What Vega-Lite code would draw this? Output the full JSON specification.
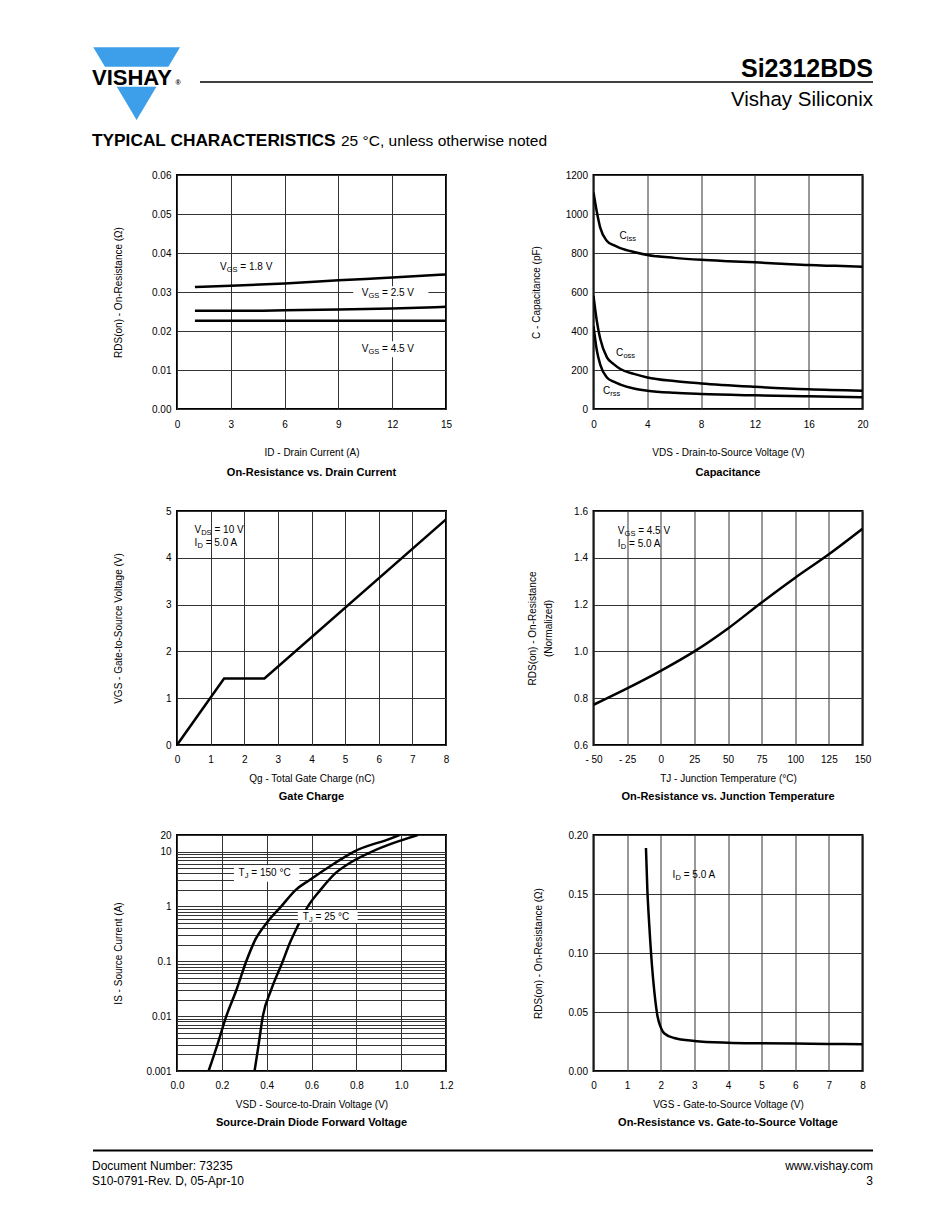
{
  "$schema": "https://vega.github.io/schema/vega-lite/v6.json",
  "background": "white",
  "padding": {"left": 92, "top": 40, "right": 0, "bottom": 0},
  "spacing": 10,
  "config": {
    "font": "Liberation Sans",
    "view": {"stroke": null},
    "axis": {"labelFont": "Liberation Sans", "labelFontSize": 10, "labelColor": "#000", "titleFont": "Liberation Sans", "titleFontSize": 10, "titleFontWeight": "normal", "titleColor": "#000", "ticks": false, "tickSize": 0, "domain": false, "grid": true, "gridColor": "#333", "gridWidth": 1, "gridOpacity": 1, "labelFlush": false, "labelOverlap": false, "titleBaseline": "alphabetic"},
    "axisX": {"labelBaseline": "middle", "labelPadding": 14, "labelAlign": "center", "labelAngle": 0},
    "axisY": {"labelPadding": 6, "titleAngle": 270, "titleAlign": "center"},
    "title": {"font": "Liberation Sans", "fontSize": 11, "fontWeight": "bold", "color": "#000"},
    "text": {"font": "Liberation Sans", "color": "#000", "fontSize": 10, "align": "left", "baseline": "middle"}
  },
  "datasets": {
    "lab1": [{"x": 2.4, "y": 0.0364, "m": "V", "s": "GS", "r": "= 1.8 V", "g": "V"}, {"x": 10.3, "y": 0.0298, "m": "V", "s": "GS", "r": "= 2.5 V", "g": "V"}, {"x": 10.3, "y": 0.0154, "m": "V", "s": "GS", "r": "= 4.5 V", "g": "V"}],
    "lab2": [{"x": 1.93, "y": 888, "m": "C", "s": "iss"}, {"x": 1.68, "y": 285, "m": "C", "s": "oss"}, {"x": 0.7, "y": 94, "m": "C", "s": "rss"}],
    "lab3": [{"x": 0.52, "y": 4.59, "m": "V", "s": "DS", "r": "= 10 V", "g": "V"}, {"x": 0.52, "y": 4.32, "m": "I", "s": "D", "r": "= 5.0 A", "g": "I"}],
    "lab4": [{"x": -31.9, "y": 1.515, "m": "V", "s": "GS", "r": "= 4.5 V", "g": "V"}, {"x": -31.9, "y": 1.46, "m": "I", "s": "D", "r": "= 5.0 A", "g": "I"}],
    "lab5": [{"x": 0.2745, "y": 4.0, "m": "T", "s": "J", "r": "= 150 °C", "g": "T"}, {"x": 0.561, "y": 0.65, "m": "T", "s": "J", "r": "= 25 °C", "g": "T"}],
    "lab6": [{"x": 2.35, "y": 0.166, "m": "I", "s": "D", "r": "= 5.0 A", "g": "I"}]
  },
  "vconcat": [
    {
      "width": 696, "height": 119,
      "encoding": {
        "x": {"field": "x", "type": "quantitative", "scale": {"domain": [177, 873], "nice": false, "zero": false}, "axis": null},
        "y": {"field": "y", "type": "quantitative", "scale": {"domain": [40, 159], "nice": false, "zero": false, "reverse": true}, "axis": null}
      },
      "layer": [
        {"data": {"values": [{"x": 93.3, "y": 47.3, "y2": 47.3}, {"x": 136.6, "y": 47.3, "y2": 120}, {"x": 180, "y": 47.3, "y2": 47.3}]},
         "mark": {"type": "area", "color": "#3d9ee9", "opacity": 1},
         "encoding": {"y2": {"field": "y2"}}},
        {"data": {"values": [{"x": 95, "x2": 178, "y": 66.7, "y2": 86.7}]},
         "mark": {"type": "rect", "color": "#ffffff"},
         "encoding": {"x2": {"field": "x2"}, "y2": {"field": "y2"}}},
        {"data": {"values": [{"x": 92, "y": 85, "label": "VISHAY"}]},
         "mark": {"type": "text", "align": "left", "baseline": "alphabetic", "fontSize": 22, "fontWeight": "bold"},
         "encoding": {"text": {"field": "label"}}},
        {"data": {"values": [{"x": 175.5, "y": 84.5, "label": "®"}]},
         "mark": {"type": "text", "align": "left", "baseline": "alphabetic", "fontSize": 7, "fontWeight": "bold"},
         "encoding": {"text": {"field": "label"}}},
        {"data": {"values": [{"x": 200, "x2": 873, "y": 82}]},
         "mark": {"type": "rule", "color": "#000", "strokeWidth": 1.5},
         "encoding": {"x2": {"field": "x2"}}},
        {"data": {"values": [{"x": 873, "y": 77, "label": "Si2312BDS"}]},
         "mark": {"type": "text", "align": "right", "baseline": "alphabetic", "fontSize": 25, "fontWeight": "bold"},
         "encoding": {"text": {"field": "label"}}},
        {"data": {"values": [{"x": 873, "y": 105.5, "label": "Vishay Siliconix"}]},
         "mark": {"type": "text", "align": "right", "baseline": "alphabetic", "fontSize": 20.5},
         "encoding": {"text": {"field": "label"}}},
        {"data": {"values": [{"x": 92, "y": 146, "label": "TYPICAL CHARACTERISTICS"}]},
         "mark": {"type": "text", "align": "left", "baseline": "alphabetic", "fontSize": 17.3, "fontWeight": "bold"},
         "encoding": {"text": {"field": "label"}}},
        {"data": {"values": [{"x": 341, "y": 146, "label": "25 °C, unless otherwise noted"}]},
         "mark": {"type": "text", "align": "left", "baseline": "alphabetic", "fontSize": 15.5},
         "encoding": {"text": {"field": "label"}}}
      ]
    },
    {
      "columns": 2,
      "align": "each",
      "spacing": {"row": 26, "column": 72.5},
      "concat": [
        {
          "width": 269, "height": 234,
          "view": {"stroke": "#000", "strokeWidth": 2},
          "title": {"text": "On-Resistance vs. Drain Current", "orient": "bottom", "offset": 19, "baseline": "alphabetic"},
          "encoding": {
            "x": {"field": "x", "type": "quantitative", "scale": {"domain": [0, 15], "nice": false, "zero": false},
                  "axis": {"values": [0, 3, 6, 9, 12, 15], "title": "ID - Drain Current (A)", "titleX": 134.5, "titleY": 46, "labelPadding": 15}},
            "y": {"field": "y", "type": "quantitative", "scale": {"domain": [0, 0.06], "nice": false, "zero": false},
                  "axis": {"values": [0, 0.01, 0.02, 0.03, 0.04, 0.05, 0.06], "format": ".2f", "title": "RDS(on) - On-Resistance (Ω)", "titleX": -56, "titleY": 117}}
          },
          "layer": [
            {"data": {"values": [
              {"x": 1, "y": 0.0313, "c": "1.8"}, {"x": 3, "y": 0.0316, "c": "1.8"}, {"x": 6, "y": 0.0322, "c": "1.8"}, {"x": 9, "y": 0.033, "c": "1.8"}, {"x": 12, "y": 0.0337, "c": "1.8"}, {"x": 15, "y": 0.0345, "c": "1.8"},
              {"x": 1, "y": 0.0252, "c": "2.5"}, {"x": 4, "y": 0.0252, "c": "2.5"}, {"x": 6, "y": 0.0253, "c": "2.5"}, {"x": 9, "y": 0.0255, "c": "2.5"}, {"x": 12, "y": 0.0258, "c": "2.5"}, {"x": 15, "y": 0.0262, "c": "2.5"},
              {"x": 1, "y": 0.0226, "c": "4.5"}, {"x": 5, "y": 0.0226, "c": "4.5"}, {"x": 10, "y": 0.0226, "c": "4.5"}, {"x": 15, "y": 0.0226, "c": "4.5"}
             ]},
             "mark": {"type": "line", "color": "#000", "strokeWidth": 2.5, "interpolate": "monotone", "clip": true},
             "encoding": {"detail": {"field": "c", "type": "nominal"}}},
            {"data": {"values": [{"x": 9.83, "x2": 14.02, "y": 0.0282, "y2": 0.0315}, {"x": 10.1, "x2": 13.55, "y": 0.0133, "y2": 0.0174}]},
             "mark": {"type": "rect", "color": "#ffffff"},
             "encoding": {"x2": {"field": "x2"}, "y2": {"field": "y2"}}},
            {"data": {"name": "lab1"}, "mark": {"type": "text"}, "encoding": {"text": {"field": "m"}}},
            {"data": {"name": "lab1"}, "mark": {"type": "text", "fontSize": 7.5, "dx": 6.7, "dy": 3}, "encoding": {"text": {"field": "s"}}},
            {"data": {"name": "lab1"}, "mark": {"type": "text", "dx": 20.3}, "encoding": {"text": {"field": "r"}}}
          ]
        },
        {
          "width": 269, "height": 234,
          "view": {"stroke": "#000", "strokeWidth": 2},
          "title": {"text": "Capacitance", "orient": "bottom", "offset": 19, "baseline": "alphabetic"},
          "encoding": {
            "x": {"field": "x", "type": "quantitative", "scale": {"domain": [0, 20], "nice": false, "zero": false},
                  "axis": {"values": [0, 4, 8, 12, 16, 20], "title": "VDS - Drain-to-Source Voltage (V)", "titleX": 134.5, "titleY": 46, "labelPadding": 15}},
            "y": {"field": "y", "type": "quantitative", "scale": {"domain": [0, 1200], "nice": false, "zero": false},
                  "axis": {"values": [0, 200, 400, 600, 800, 1000, 1200], "format": "d", "title": "C - Capacitance (pF)", "titleX": -54, "titleY": 117}}
          },
          "layer": [
            {"data": {"values": [
              {"x": 0, "y": 1110, "c": "Ciss"}, {"x": 0.25, "y": 1010, "c": "Ciss"}, {"x": 0.5, "y": 930, "c": "Ciss"}, {"x": 1, "y": 862, "c": "Ciss"}, {"x": 1.5, "y": 840, "c": "Ciss"}, {"x": 2, "y": 825, "c": "Ciss"}, {"x": 3, "y": 805, "c": "Ciss"}, {"x": 4, "y": 790, "c": "Ciss"}, {"x": 6, "y": 775, "c": "Ciss"}, {"x": 8, "y": 765, "c": "Ciss"}, {"x": 10, "y": 758, "c": "Ciss"}, {"x": 12, "y": 752, "c": "Ciss"}, {"x": 14, "y": 745, "c": "Ciss"}, {"x": 16, "y": 738, "c": "Ciss"}, {"x": 18, "y": 734, "c": "Ciss"}, {"x": 20, "y": 730, "c": "Ciss"},
              {"x": 0, "y": 580, "c": "Coss"}, {"x": 0.25, "y": 450, "c": "Coss"}, {"x": 0.5, "y": 360, "c": "Coss"}, {"x": 1, "y": 265, "c": "Coss"}, {"x": 1.5, "y": 230, "c": "Coss"}, {"x": 2, "y": 205, "c": "Coss"}, {"x": 3, "y": 180, "c": "Coss"}, {"x": 4, "y": 162, "c": "Coss"}, {"x": 6, "y": 143, "c": "Coss"}, {"x": 8, "y": 131, "c": "Coss"}, {"x": 12, "y": 114, "c": "Coss"}, {"x": 16, "y": 101, "c": "Coss"}, {"x": 20, "y": 94, "c": "Coss"},
              {"x": 0, "y": 425, "c": "Crss"}, {"x": 0.25, "y": 300, "c": "Crss"}, {"x": 0.5, "y": 228, "c": "Crss"}, {"x": 1, "y": 162, "c": "Crss"}, {"x": 1.5, "y": 140, "c": "Crss"}, {"x": 2, "y": 125, "c": "Crss"}, {"x": 3, "y": 105, "c": "Crss"}, {"x": 4, "y": 94, "c": "Crss"}, {"x": 6, "y": 83, "c": "Crss"}, {"x": 8, "y": 77, "c": "Crss"}, {"x": 12, "y": 70, "c": "Crss"}, {"x": 16, "y": 65, "c": "Crss"}, {"x": 20, "y": 60, "c": "Crss"}
             ]},
             "mark": {"type": "line", "color": "#000", "strokeWidth": 2.5, "interpolate": "monotone", "clip": true},
             "encoding": {"detail": {"field": "c", "type": "nominal"}}},
            {"data": {"name": "lab2"}, "mark": {"type": "text"}, "encoding": {"text": {"field": "m"}}},
            {"data": {"name": "lab2"}, "mark": {"type": "text", "fontSize": 7.5, "dx": 7.3, "dy": 3}, "encoding": {"text": {"field": "s"}}}
          ]
        },
        {
          "width": 269, "height": 234,
          "view": {"stroke": "#000", "strokeWidth": 2},
          "title": {"text": "Gate Charge", "orient": "bottom", "offset": 16.5, "baseline": "alphabetic"},
          "encoding": {
            "x": {"field": "x", "type": "quantitative", "scale": {"domain": [0, 8], "nice": false, "zero": false},
                  "axis": {"values": [0, 1, 2, 3, 4, 5, 6, 7, 8], "title": "Qg - Total Gate Charge (nC)", "titleX": 134.5, "titleY": 36.5}},
            "y": {"field": "y", "type": "quantitative", "scale": {"domain": [0, 5], "nice": false, "zero": false},
                  "axis": {"values": [0, 1, 2, 3, 4, 5], "title": "VGS - Gate-to-Source Voltage (V)", "titleX": -56, "titleY": 117}}
          },
          "layer": [
            {"data": {"values": [{"x": 0, "y": 0}, {"x": 1.4, "y": 1.42}, {"x": 2.6, "y": 1.42}, {"x": 8, "y": 4.82}]},
             "mark": {"type": "line", "color": "#000", "strokeWidth": 2.5, "clip": true}},
            {"data": {"name": "lab3"}, "mark": {"type": "text"}, "encoding": {"text": {"field": "m"}}},
            {"data": {"name": "lab3"}, "transform": [{"filter": "datum.g == 'V'"}], "mark": {"type": "text", "fontSize": 7.5, "dx": 6.7, "dy": 3}, "encoding": {"text": {"field": "s"}}},
            {"data": {"name": "lab3"}, "transform": [{"filter": "datum.g == 'V'"}], "mark": {"type": "text", "dx": 20}, "encoding": {"text": {"field": "r"}}},
            {"data": {"name": "lab3"}, "transform": [{"filter": "datum.g == 'I'"}], "mark": {"type": "text", "fontSize": 7.5, "dx": 2.9, "dy": 3}, "encoding": {"text": {"field": "s"}}},
            {"data": {"name": "lab3"}, "transform": [{"filter": "datum.g == 'I'"}], "mark": {"type": "text", "dx": 11.2}, "encoding": {"text": {"field": "r"}}}
          ]
        },
        {
          "width": 269, "height": 234,
          "view": {"stroke": "#000", "strokeWidth": 2},
          "title": {"text": "On-Resistance vs. Junction Temperature", "orient": "bottom", "offset": 16.5, "baseline": "alphabetic"},
          "encoding": {
            "x": {"field": "x", "type": "quantitative", "scale": {"domain": [-50, 150], "nice": false, "zero": false},
                  "axis": {"values": [-50, -25, 0, 25, 50, 75, 100, 125, 150], "labelExpr": "datum.value < 0 ? '- ' + abs(datum.value) : datum.label", "title": "TJ - Junction Temperature (°C)", "titleX": 134.5, "titleY": 36.5}},
            "y": {"field": "y", "type": "quantitative", "scale": {"domain": [0.6, 1.6], "nice": false, "zero": false},
                  "axis": {"values": [0.6, 0.8, 1.0, 1.2, 1.4, 1.6], "format": ".1f", "title": ["RDS(on) - On-Resistance", "(Normalized)"], "titleLineHeight": 16, "titleX": -58, "titleY": 117}}
          },
          "layer": [
            {"data": {"values": [{"x": -50, "y": 0.772}, {"x": -25, "y": 0.842}, {"x": 0, "y": 0.917}, {"x": 25, "y": 1.0}, {"x": 50, "y": 1.098}, {"x": 75, "y": 1.209}, {"x": 100, "y": 1.315}, {"x": 125, "y": 1.415}, {"x": 150, "y": 1.524}]},
             "mark": {"type": "line", "color": "#000", "strokeWidth": 2.5, "interpolate": "monotone", "clip": true}},
            {"data": {"name": "lab4"}, "mark": {"type": "text"}, "encoding": {"text": {"field": "m"}}},
            {"data": {"name": "lab4"}, "transform": [{"filter": "datum.g == 'V'"}], "mark": {"type": "text", "fontSize": 7.5, "dx": 6.7, "dy": 3}, "encoding": {"text": {"field": "s"}}},
            {"data": {"name": "lab4"}, "transform": [{"filter": "datum.g == 'V'"}], "mark": {"type": "text", "dx": 20.3}, "encoding": {"text": {"field": "r"}}},
            {"data": {"name": "lab4"}, "transform": [{"filter": "datum.g == 'I'"}], "mark": {"type": "text", "fontSize": 7.5, "dx": 2.9, "dy": 3}, "encoding": {"text": {"field": "s"}}},
            {"data": {"name": "lab4"}, "transform": [{"filter": "datum.g == 'I'"}], "mark": {"type": "text", "dx": 11.2}, "encoding": {"text": {"field": "r"}}}
          ]
        },
        {
          "width": 269, "height": 236,
          "view": {"stroke": "#000", "strokeWidth": 2},
          "title": {"text": "Source-Drain Diode Forward Voltage", "orient": "bottom", "offset": 17, "baseline": "alphabetic"},
          "encoding": {
            "x": {"field": "x", "type": "quantitative", "scale": {"domain": [0, 1.2], "nice": false, "zero": false},
                  "axis": {"values": [0, 0.2, 0.4, 0.6, 0.8, 1.0, 1.2], "format": ".1f", "title": "VSD - Source-to-Drain Voltage (V)", "titleX": 134.5, "titleY": 36}},
            "y": {"field": "y", "type": "quantitative", "scale": {"type": "log", "domain": [0.001, 20], "nice": false},
                  "axis": {"values": [0.001, 0.002, 0.003, 0.004, 0.005, 0.006, 0.007, 0.008, 0.009, 0.01, 0.02, 0.03, 0.04, 0.05, 0.06, 0.07, 0.08, 0.09, 0.1, 0.2, 0.3, 0.4, 0.5, 0.6, 0.7, 0.8, 0.9, 1, 2, 3, 4, 5, 6, 7, 8, 9, 10, 20], "format": "~g", "labelExpr": "indexof([0.001, 0.01, 0.1, 1, 10, 20], datum.value) >= 0 ? datum.label : ''", "title": "IS - Source Current (A)", "titleX": -56, "titleY": 118}}
          },
          "layer": [
            {"data": {"values": [
              {"x": 0.141, "y": 0.001, "c": "150"}, {"x": 0.18, "y": 0.003, "c": "150"}, {"x": 0.22, "y": 0.01, "c": "150"}, {"x": 0.265, "y": 0.03, "c": "150"}, {"x": 0.309, "y": 0.1, "c": "150"}, {"x": 0.35, "y": 0.25, "c": "150"}, {"x": 0.4, "y": 0.5, "c": "150"}, {"x": 0.465, "y": 1, "c": "150"}, {"x": 0.53, "y": 2, "c": "150"}, {"x": 0.59, "y": 3, "c": "150"}, {"x": 0.7, "y": 6, "c": "150"}, {"x": 0.79, "y": 10, "c": "150"}, {"x": 0.955, "y": 17.4, "c": "150"}, {"x": 0.992, "y": 20, "c": "150"},
              {"x": 0.346, "y": 0.001, "c": "25"}, {"x": 0.364, "y": 0.003, "c": "25"}, {"x": 0.383, "y": 0.01, "c": "25"}, {"x": 0.42, "y": 0.03, "c": "25"}, {"x": 0.472, "y": 0.1, "c": "25"}, {"x": 0.5, "y": 0.2, "c": "25"}, {"x": 0.54, "y": 0.45, "c": "25"}, {"x": 0.584, "y": 1, "c": "25"}, {"x": 0.64, "y": 2, "c": "25"}, {"x": 0.7, "y": 3.8, "c": "25"}, {"x": 0.78, "y": 6.5, "c": "25"}, {"x": 0.87, "y": 10, "c": "25"}, {"x": 0.97, "y": 14.5, "c": "25"}, {"x": 1.074, "y": 20, "c": "25"}
             ]},
             "mark": {"type": "line", "color": "#000", "strokeWidth": 2.5, "interpolate": "monotone", "clip": true},
             "encoding": {"detail": {"field": "c", "type": "nominal"}}},
            {"data": {"values": [{"x": 0.254, "x2": 0.546, "y": 2.8, "y2": 5.6}, {"x": 0.539, "x2": 0.806, "y": 0.5, "y2": 0.86}]},
             "mark": {"type": "rect", "color": "#ffffff"},
             "encoding": {"x2": {"field": "x2"}, "y2": {"field": "y2"}}},
            {"data": {"name": "lab5"}, "mark": {"type": "text"}, "encoding": {"text": {"field": "m"}}},
            {"data": {"name": "lab5"}, "mark": {"type": "text", "fontSize": 7.5, "dx": 6.2, "dy": 3}, "encoding": {"text": {"field": "s"}}},
            {"data": {"name": "lab5"}, "mark": {"type": "text", "dx": 12.8}, "encoding": {"text": {"field": "r"}}}
          ]
        },
        {
          "width": 269, "height": 236,
          "view": {"stroke": "#000", "strokeWidth": 2},
          "title": {"text": "On-Resistance vs. Gate-to-Source Voltage", "orient": "bottom", "offset": 17, "baseline": "alphabetic"},
          "encoding": {
            "x": {"field": "x", "type": "quantitative", "scale": {"domain": [0, 8], "nice": false, "zero": false},
                  "axis": {"values": [0, 1, 2, 3, 4, 5, 6, 7, 8], "title": "VGS - Gate-to-Source Voltage (V)", "titleX": 134.5, "titleY": 36}},
            "y": {"field": "y", "type": "quantitative", "scale": {"domain": [0, 0.2], "nice": false, "zero": false},
                  "axis": {"values": [0, 0.05, 0.1, 0.15, 0.2], "format": ".2f", "title": "RDS(on) - On-Resistance (Ω)", "titleX": -52, "titleY": 118}}
          },
          "layer": [
            {"data": {"values": [{"x": 1.56, "y": 0.189}, {"x": 1.6, "y": 0.155}, {"x": 1.66, "y": 0.123}, {"x": 1.74, "y": 0.089}, {"x": 1.81, "y": 0.067}, {"x": 1.9, "y": 0.047}, {"x": 2.0, "y": 0.037}, {"x": 2.1, "y": 0.032}, {"x": 2.4, "y": 0.028}, {"x": 3, "y": 0.0255}, {"x": 4, "y": 0.024}, {"x": 5, "y": 0.0235}, {"x": 6, "y": 0.0232}, {"x": 7, "y": 0.0229}, {"x": 8, "y": 0.0227}]},
             "mark": {"type": "line", "color": "#000", "strokeWidth": 2.5, "interpolate": "monotone", "clip": true}},
            {"data": {"name": "lab6"}, "mark": {"type": "text"}, "encoding": {"text": {"field": "m"}}},
            {"data": {"name": "lab6"}, "mark": {"type": "text", "fontSize": 7.5, "dx": 2.9, "dy": 3}, "encoding": {"text": {"field": "s"}}},
            {"data": {"name": "lab6"}, "mark": {"type": "text", "dx": 11.2}, "encoding": {"text": {"field": "r"}}}
          ]
        }
      ]
    },
    {
      "width": 696, "height": 57,
      "encoding": {
        "x": {"field": "x", "type": "quantitative", "scale": {"domain": [177, 873], "nice": false, "zero": false}, "axis": null},
        "y": {"field": "y", "type": "quantitative", "scale": {"domain": [1138.5, 1195.5], "nice": false, "zero": false, "reverse": true}, "axis": null}
      },
      "layer": [
        {"data": {"values": [{"x": 93, "x2": 873, "y": 1150}]},
         "mark": {"type": "rule", "color": "#000", "strokeWidth": 2},
         "encoding": {"x2": {"field": "x2"}}},
        {"data": {"values": [{"x": 92, "y": 1169, "label": "Document Number: 73235"}, {"x": 92, "y": 1184, "label": "S10-0791-Rev. D, 05-Apr-10"}]},
         "mark": {"type": "text", "align": "left", "baseline": "alphabetic", "fontSize": 12},
         "encoding": {"text": {"field": "label"}}},
        {"data": {"values": [{"x": 873, "y": 1169, "label": "www.vishay.com"}, {"x": 873, "y": 1184, "label": "3"}]},
         "mark": {"type": "text", "align": "right", "baseline": "alphabetic", "fontSize": 12},
         "encoding": {"text": {"field": "label"}}}
      ]
    }
  ]
}
